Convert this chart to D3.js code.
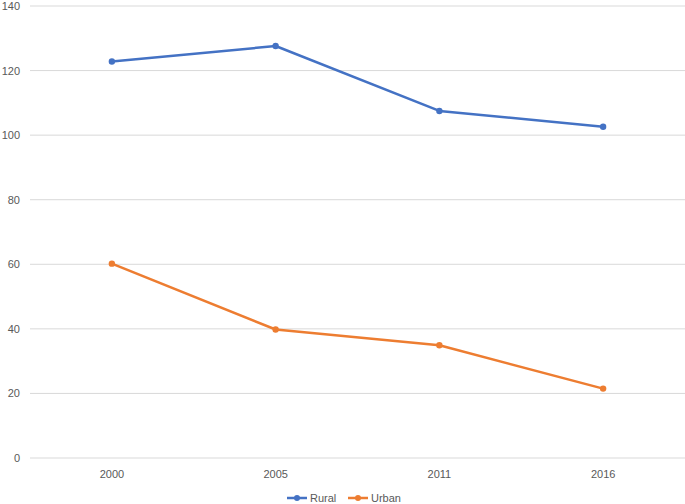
<!DOCTYPE html>
<html>
<head>
<meta charset="utf-8">
<script src="https://cdn.jsdelivr.net/npm/d3@7"></script>
<style>
  body { margin: 0; background: #fff; }
  text { font-family: "Liberation Sans", Arial, sans-serif; fill: #595959; }
</style>
</head>
<body>
<div id="chart"></div>
<script>
const years = ["2000", "2005", "2011", "2016"];
const rural = [122.8, 127.6, 107.5, 102.6];
const urban = [60.2, 39.8, 34.9, 21.5];
const yTicks = [0, 20, 40, 60, 80, 100, 120, 140];

const series = [
  { name: "Rural", values: rural, color: "#4472C4" },
  { name: "Urban", values: urban, color: "#ED7D31" }
];

const W = 685, H = 504;
const margin = { top: 6, right: 0, bottom: 46, left: 30 };
const width = W - margin.left - margin.right;
const height = H - margin.top - margin.bottom;

const svg = d3.select("#chart")
  .append("svg")
  .attr("width", W)
  .attr("height", H);

const g = svg.append("g")
  .attr("transform", `translate(${margin.left},${margin.top})`);

const x = d3.scaleBand().domain(years).range([0, width]);
const y = d3.scaleLinear().domain([0, 140]).range([height, 0]);

// gridlines
g.selectAll(".grid")
  .data(yTicks)
  .enter()
  .append("line")
  .attr("x1", 0)
  .attr("x2", width)
  .attr("y1", d => y(d))
  .attr("y2", d => y(d))
  .attr("stroke", "#d9d9d9")
  .attr("stroke-width", 1);

// y axis labels
const yAxis = g.append("g")
  .call(d3.axisLeft(y).tickValues(yTicks).tickSize(0).tickPadding(10));
yAxis.select(".domain").remove();
yAxis.selectAll("text").style("font-size", "11px");

// x axis labels
const xAxis = g.append("g")
  .attr("transform", `translate(0,${height})`)
  .call(d3.axisBottom(x).tickSize(0).tickPadding(12));
xAxis.select(".domain").remove();
xAxis.selectAll("text").style("font-size", "11px");

const line = d3.line()
  .x((d, i) => x(years[i]) + x.bandwidth() / 2)
  .y(d => y(d));

series.forEach(s => {
  g.append("path")
    .datum(s.values)
    .attr("fill", "none")
    .attr("stroke", s.color)
    .attr("stroke-width", 2.5)
    .attr("stroke-linejoin", "round")
    .attr("d", line);

  g.selectAll(null)
    .data(s.values)
    .enter()
    .append("circle")
    .attr("cx", (d, i) => x(years[i]) + x.bandwidth() / 2)
    .attr("cy", d => y(d))
    .attr("r", 3.2)
    .attr("fill", s.color);
});

// legend
const legend = svg.append("g").attr("transform", "translate(287,498)");
const lx = [0, 61];
series.forEach((s, i) => {
  const lg = legend.append("g").attr("transform", `translate(${lx[i]},0)`);
  lg.append("line")
    .attr("x1", 0).attr("x2", 20)
    .attr("y1", 0).attr("y2", 0)
    .attr("stroke", s.color)
    .attr("stroke-width", 2.5);
  lg.append("circle")
    .attr("cx", 10).attr("cy", 0).attr("r", 3)
    .attr("fill", s.color);
  lg.append("text")
    .attr("x", 23)
    .attr("y", 4)
    .style("font-size", "11px")
    .text(s.name);
});
</script>
</body>
</html>
